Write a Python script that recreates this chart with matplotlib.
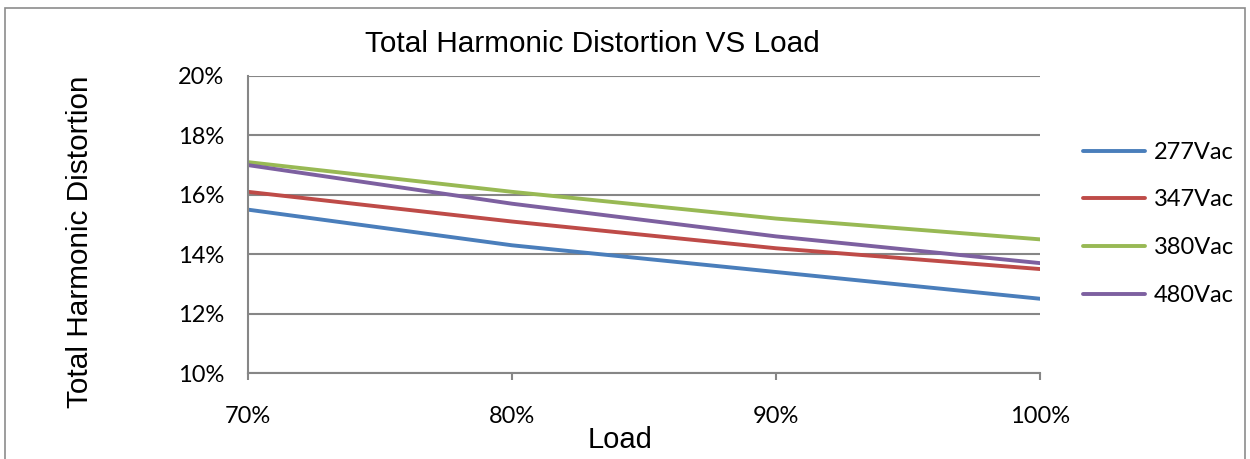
import matplotlib.pyplot as plt
from matplotlib.patches import Rectangle
from matplotlib.ticker import FuncFormatter

# load points (%) and THD readings (%) per supply voltage
load = [70, 80, 90, 100]
thd_277 = [15.5, 14.3, 13.4, 12.5]
thd_347 = [16.1, 15.1, 14.2, 13.5]
thd_380 = [17.1, 16.1, 15.2, 14.5]
thd_480 = [17.0, 15.7, 14.6, 13.7]
series_names = ['277Vac', '347Vac', '380Vac', '480Vac']
colors = ['#4A7EBB', '#BE4B48', '#98B954', '#7D60A0']

fig = plt.figure(figsize=(12.5, 4.59), dpi=100)
fig.patches.append(Rectangle((5 / 1250, -0.05), 1240 / 1250, 1 - 8 / 459 + 0.05,
                             transform=fig.transFigure, fill=False,
                             edgecolor='#8c8c8c', linewidth=1.2))

ax = fig.add_axes([248 / 1250, 1 - 373 / 459, 792 / 1250, 297 / 459])

for vals, name, c in zip([thd_277, thd_347, thd_380, thd_480], series_names, colors):
    ax.plot(load, vals, color=c, linewidth=2.8, label=name, solid_capstyle='round')

ax.set_xlim(70, 100)
ax.set_ylim(10, 20)
ax.set_xticks([70, 80, 90, 100])
ax.set_yticks([10, 12, 14, 16, 18, 20])
pct = FuncFormatter(lambda v, p: f'{int(v)}%')
ax.xaxis.set_major_formatter(pct)
ax.yaxis.set_major_formatter(pct)

ax.grid(axis='y', color='#868686', linewidth=1.5)
ax.set_axisbelow(True)
for s in ['top', 'right']:
    ax.spines[s].set_visible(False)
for s in ['left', 'bottom']:
    ax.spines[s].set_color('#868686')
    ax.spines[s].set_linewidth(1.5)

tick_font = ['Lato', 'DejaVu Sans']
ax.tick_params(axis='y', length=0, pad=17, labelsize=17)
ax.tick_params(axis='x', length=5, width=1.5, color='#868686', pad=19, labelsize=17)
for lab in ax.get_xticklabels() + ax.get_yticklabels():
    lab.set_family(tick_font)

ax.set_title('Total Harmonic Distortion VS Load', fontsize=21.4,
             family=['Liberation Sans', 'DejaVu Sans'], pad=17, x=0.435)
ax.set_xlabel('Load', fontsize=21, family=['Liberation Sans', 'DejaVu Sans'], labelpad=-1, x=0.47)
fig.text(80 / 1250, 1 - 242 / 459, 'Total Harmonic Distortion', rotation=90,
         fontsize=21.4, family=['Liberation Sans', 'DejaVu Sans'], ha='center', va='center')

leg = ax.legend(loc='upper left', bbox_to_anchor=(1.027, 0.85), frameon=False,
                prop={'family': tick_font, 'size': 17}, handlelength=2.65,
                labelspacing=1.13, handletextpad=0.35)

fig.savefig('out.png', dpi=100)
